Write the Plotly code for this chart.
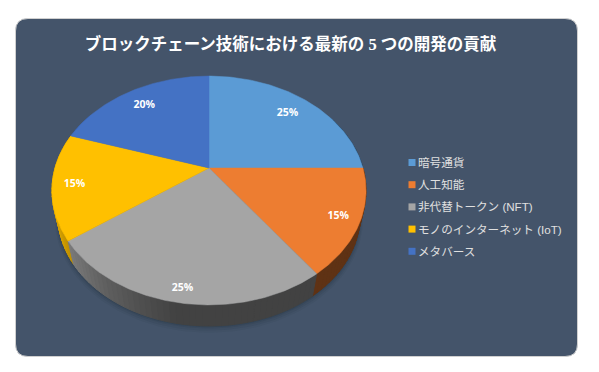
import numpy as np
import plotly.graph_objects as go

title = "ブロックチェーン技術における最新の 5 つの開発の貢献"
categories = ["暗号通貨", "人工知能", "非代替トークン (NFT)", "モノのインターネット (IoT)", "メタバース"]
shares = [25, 15, 25, 15, 20]
colors = ["#5b9bd5", "#ed7d31", "#a5a5a5", "#ffc000", "#4472c4"]

W, H = 599, 372
CX, CY = 209, 168      # pie apex on the canvas
A, B, K = 154, 110, 0.1965  # perspective circle
A2, B2, CY2 = 148, 106, 194  # lower rim
LABEL_R = [0.82, 0.857, 0.885, 0.857, 0.83]
LABEL_DY = 1.5
JP = "Noto Sans CJK JP"


def rim(theta, a=A, b=B, cy=CY):
    d = 1 + K * np.cos(theta)
    return CX + a * np.sin(theta) / d, cy - b * np.cos(theta) / d


def scale(hexc, f):
    r, g, b = [int(hexc[i:i + 2], 16) for i in (1, 3, 5)]
    return f"rgb({r * f:.0f},{g * f:.0f},{b * f:.0f})"


def wall_shade(deg):
    return float(np.interp(deg, [90, 190, 215, 245, 290], [0.40, 0.40, 0.58, 0.85, 0.85]))


fig = go.Figure()
edges = np.radians(np.cumsum([0] + shares) * 3.6)

# soft shadow below the pie
th = np.radians(np.linspace(70, 290, 120))
for grow, alpha in [(5, 0.05), (3.5, 0.07), (2, 0.09), (1, 0.12)]:
    xs, ys = rim(th, A2 + grow * 0.6, B2 + grow * 0.6, CY2 + grow * 0.6)
    fig.add_trace(go.Scatter(x=xs, y=ys, fill="toself", mode="lines", line_width=0,
                             fillcolor=f"rgba(20,30,45,{alpha})", showlegend=False, hoverinfo="skip"))

# side wall, one thin strip per step of angle, outer edges first
steps = []
for i in range(len(shares)):
    lo, hi = np.degrees(edges[i]), np.degrees(edges[i + 1])
    grid = np.arange(np.ceil(lo), hi + 1e-6, 2.0)
    pts = np.unique(np.r_[lo, grid, hi])
    for a0, a1 in zip(pts[:-1], pts[1:]):
        if 60 <= a0 <= 300:
            steps.append((abs((a0 + a1) / 2 - 180), a0, a1, colors[i]))
for _, a0, a1, col in sorted(steps, key=lambda s: -s[0]):
    t = np.radians([a0, a1])
    xt, yt = rim(t)
    xb, yb = rim(t, A2, B2, CY2)
    c = scale(col, wall_shade((a0 + a1) / 2))
    fig.add_trace(go.Scatter(x=[xt[0], xt[1], xb[1], xb[0], xt[0]], y=[yt[0], yt[1], yb[1], yb[0], yt[0]],
                             fill="toself", mode="lines", line=dict(width=1, color=c), fillcolor=c,
                             showlegend=False, hoverinfo="skip"))

# top face
for i, col in enumerate(colors):
    t = np.linspace(edges[i], edges[i + 1], 90)
    xs, ys = rim(t)
    fig.add_trace(go.Scatter(x=np.r_[CX, xs, CX], y=np.r_[CY, ys, CY], fill="toself", mode="lines",
                             line=dict(width=0.5, color=col), fillcolor=col,
                             showlegend=False, hoverinfo="skip"))

# percentage labels
mid = (edges[:-1] + edges[1:]) / 2
lx, ly = rim(mid, A * np.array(LABEL_R), B * np.array(LABEL_R), CY + LABEL_DY)
fig.add_trace(go.Scatter(x=lx, y=ly, mode="text", text=[f"<b>{v}%</b>" for v in shares],
                         textfont=dict(family="Open Sans", size=10.5, color="white"),
                         showlegend=False, hoverinfo="skip"))

# legend entries
for name, col in zip(categories, colors):
    fig.add_trace(go.Scatter(x=[None], y=[None], mode="markers", name=name, legendgroup=name,
                             marker=dict(symbol="square", size=7, color=col)))

panel = "M 28 18.5 H 565 Q 577.5 18.5 577.5 31 V 344 Q 577.5 356.5 565 356.5 H 28 Q 15.5 356.5 15.5 344 V 31 Q 15.5 18.5 28 18.5 Z"
fig.update_layout(
    width=W, height=H, margin=dict(l=0, r=0, t=0, b=0),
    paper_bgcolor="white", plot_bgcolor="rgba(0,0,0,0)",
    xaxis=dict(range=[0, W], visible=False, fixedrange=True),
    yaxis=dict(range=[H, 0], visible=False, fixedrange=True),
    shapes=[dict(type="path", path=panel, xref="x", yref="y", fillcolor="#44546a",
                 line=dict(color="#d0d0d0", width=1), layer="below")],
    title=dict(text=f"<b>{title}</b>", x=290.5 / W, xanchor="center", y=1 - 44 / H, yanchor="middle",
               font=dict(family=f"Liberation Serif, {JP}", size=16.5, color="white")),
    legend=dict(x=392 / W, xanchor="left", y=1 - 148 / H, yanchor="top", bgcolor="rgba(0,0,0,0)",
                font=dict(family=f"Liberation Sans, {JP}", size=11.6, color="#e0e0e0"),
                tracegroupgap=3.2, itemsizing="trace", itemwidth=30, indentation=-14, traceorder="grouped"),
)
# tighten the swatch-to-text gap, which the legend's itemwidth floor keeps too wide
fig.write_html("out.html", config=dict(displayModeBar=False),
               post_script="document.body.style.margin='0';"
                           "document.querySelectorAll('g.legendsymbols').forEach(function(g){g.setAttribute('transform','translate(14,0)');});")
